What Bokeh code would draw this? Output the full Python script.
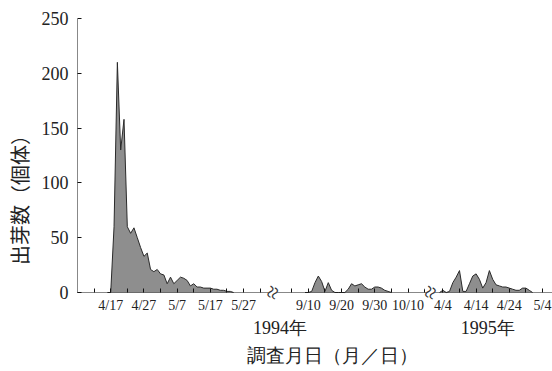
import pandas as pd
from bokeh.plotting import figure
from bokeh.models import Range1d, FixedTicker
from bokeh.embed import file_html
from bokeh.resources import INLINE

# Daily seedling emergence counts for each survey period
spring1994_start = "1994-04-16"
spring1994_counts = [0, 0, 60, 210, 130, 158, 60, 54, 59, 50, 41, 33, 36, 21, 19,
                     21, 17, 16, 8, 14, 8, 11, 14, 13, 11, 6, 8, 5, 5, 4, 4, 4, 3,
                     3, 2, 2, 1, 1, 0]
autumn1994_start = "1994-09-09"
autumn1994_counts = [0, 0, 1, 9, 15, 10, 1, 9, 2, 0, 0, 0, 0, 3, 8, 6, 7, 8, 5,
                     3, 3, 5, 5, 4, 2, 1, 0]
spring1995_start = "1995-04-03"
spring1995_counts = [0, 2, 0, 1, 9, 14, 20, 1, 1, 8, 15, 17, 12, 4, 9, 20, 12, 7,
                     6, 5, 5, 4, 3, 2, 2, 4, 4, 2, 0]

tick_dates = ["1994-04-17", "1994-04-27", "1994-05-07", "1994-05-17", "1994-05-27",
              "1994-09-10", "1994-09-20", "1994-09-30", "1994-10-10",
              "1995-04-04", "1995-04-14", "1995-04-24", "1995-05-04"]
tick_labels = ["4/17", "4/27", "5/7", "5/17", "5/27",
               "9/10", "9/20", "9/30", "10/10",
               "4/4", "4/14", "4/24", "5/4"]
minor_tick_dates = ["1994-04-12", "1994-04-22", "1994-05-02", "1994-05-12",
                    "1994-05-22", "1994-06-01",
                    "1994-09-05", "1994-09-15", "1994-09-25", "1994-10-05", "1994-10-15",
                    "1995-04-09", "1995-04-19", "1995-04-29"]
y_ticks = [0, 50, 100, 150, 200, 250]
year_labels = ["1994年", "1995年"]
x_title = "調査月日（月／日）"
y_title = "出芽数（個体）"

# Broken time axis: each piece maps a run of calendar days onto the x range
axis_pieces = [("1994-04-07", "1994-06-03", 0.0),
               ("1994-09-01", "1994-10-16", 60.5),
               ("1995-04-01", "1995-05-07", 107.0)]
break_x = [58.75, 106.25]

# where the caption rows sit below the time axis (data units)
year_label_x = [61.0, 123.5]
year_label_y = -32.0
x_title_pos = (76.8, -57.5)


def to_x(day):
    day = pd.Timestamp(day)
    for first, last, x0 in axis_pieces:
        first, last = pd.Timestamp(first), pd.Timestamp(last)
        if first <= day <= last:
            return x0 + (day - first).days
    raise ValueError(day)


def series_x(start, n):
    return [to_x(d) for d in pd.date_range(start, periods=n, freq="D")]


SERIF = "'Liberation Serif'"
JP = "'Liberation Serif', 'Noto Sans CJK JP'"
SANS_JP = "'Noto Sans CJK JP'"
INK = "#222222"

p = figure(width=552, height=371, output_backend="svg", toolbar_location=None,
           x_range=Range1d(0, 143), y_range=Range1d(-72.08, 250),
           min_border_left=77, min_border_right=0, min_border_top=18,
           min_border_bottom=0)
p.outline_line_color = None
p.xgrid.visible = False
p.ygrid.visible = False
p.background_fill_color = "white"

for start, counts in [(spring1994_start, spring1994_counts),
                      (autumn1994_start, autumn1994_counts),
                      (spring1995_start, spring1995_counts)]:
    xs = series_x(start, len(counts))
    p.varea(x=xs, y1=[0] * len(counts), y2=counts, fill_color="#8e8e8e")
    p.line(xs, counts, line_color="#2a2a2a", line_width=1)

# time axis sits on the zero line, captions hang below it inside the frame
major_x = [to_x(d) for d in tick_dates]
p.xaxis.fixed_location = 0
p.xaxis.ticker = FixedTicker(ticks=major_x,
                             minor_ticks=[to_x(d) for d in minor_tick_dates])
p.xaxis.major_label_overrides = {x: lab for x, lab in zip(major_x, tick_labels)}
p.xaxis.major_tick_in = 4
p.xaxis.major_tick_out = 0
p.xaxis.minor_tick_in = 4
p.xaxis.minor_tick_out = 0
p.xaxis.major_label_standoff = 5
p.xaxis.major_label_text_font = SERIF
p.xaxis.major_label_text_font_size = "14px"
p.xaxis.major_label_text_color = INK

p.yaxis.ticker = FixedTicker(ticks=y_ticks)
p.yaxis.bounds = (0, 250)
p.yaxis.major_tick_in = 4
p.yaxis.major_tick_out = 0
p.yaxis.minor_tick_in = 0
p.yaxis.minor_tick_out = 0
p.yaxis.major_label_standoff = 9
p.yaxis.major_label_text_font = SERIF
p.yaxis.major_label_text_font_size = "18px"
p.yaxis.major_label_text_color = INK
p.yaxis.axis_label = y_title
p.yaxis.axis_label_text_font = SANS_JP
p.yaxis.axis_label_text_font_size = "20px"
p.yaxis.axis_label_text_font_style = "normal"
p.yaxis.axis_label_text_color = INK
p.yaxis.axis_label_standoff = 5

for ax in (p.xaxis, p.yaxis):
    ax.axis_line_color = "#111111"
    ax.axis_line_width = 1
    ax.axis_line_dash = "1 1"
    ax.major_tick_line_color = "#111111"
    ax.minor_tick_line_color = "#111111"

# squiggle marks where the time axis is broken
gap = p.rect(x=break_x, y=[0, 0], width=8, height=16, width_units="screen",
             height_units="screen", angle=0.4, fill_color="white",
             line_color=None)
gap.level = "overlay"
squiggle = p.text(x=break_x, y=[0, 0], text=["≈", "≈"], angle=1.2,
                  text_align="center", text_baseline="middle",
                  text_font="'DejaVu Sans'", text_font_size="24px",
                  text_color="#333333")
squiggle.level = "overlay"

p.text(x=year_label_x, y=[year_label_y] * 2, text=year_labels,
       text_align="center", text_baseline="middle", text_font=JP,
       text_font_size="18px", text_color=INK)
p.text(x=[x_title_pos[0]], y=[x_title_pos[1]], text=[x_title],
       text_align="center", text_baseline="middle", text_font=SANS_JP,
       text_font_size="19px", text_color=INK)

open("out.html", "w").write(file_html(p, INLINE))
